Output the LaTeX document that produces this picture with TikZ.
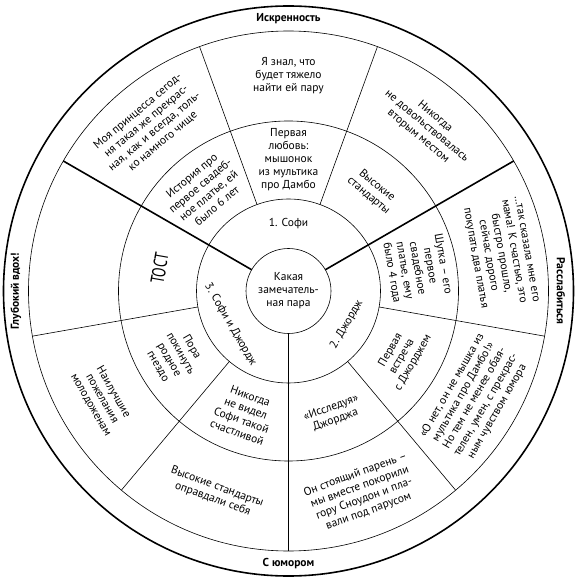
\documentclass[tikz,border=0pt]{standalone}
\usepackage{fontspec}
\setmainfont{PT Sans}
\begin{document}
\begin{tikzpicture}[x=1pt,y=1pt,
  lbl/.style={align=center, font=\fontsize{11.5}{13}\selectfont, inner sep=0pt},
  bandlbl/.style={font=\fontsize{11.5}{13}\selectfont\bfseries, inner sep=0pt},
  thinline/.style={line width=0.6pt},
  thickline/.style={line width=1.6pt}]
\useasboundingbox (-288.5,-289) rectangle (288.5,291);
\def\Ra{42.5}
\def\Rb{92}
\def\Rc{170}
\def\Rd{260}
\def\Re{285}
% circles
\draw[thickline] (0,0) circle (\Re);
\draw[thinline] (0,0) circle (\Rd);
\draw[thinline] (0,0) circle (\Rc);
\draw[thinline] (0,0) circle (\Rb);
\draw[thinline] (0,0) circle (\Ra);
% thick spokes
\foreach \a in {30,150,270} \draw[thickline] (\a:\Ra) -- (\a:\Rd);
% thin dividers
\foreach \a in {70,110,190,230,310,350} \draw[thinline] (\a:\Rb) -- (\a:\Rd);
% centre
\node[lbl] (centre) at (0,0) {Какая\\замечатель-\\ная пара};
% inner ring
\node[lbl] (i1) at (90:67) {1. Софи};
\node[lbl, rotate=60] (i2) at (-30:67) {2. Джордж};
\node[lbl, rotate=-60] (i3) at (210:67) {3. Софи и Джордж};
% middle ring
\node[lbl, rotate=40] (m130) at (130:131) {История про\\первое свадеб-\\ное платье, ей\\было 6 лет};
\node[lbl] (m90) at (90:131) {Первая\\любовь:\\мышонок\\из мультика\\про Дамбо};
\node[lbl, rotate=-40] (m50) at (50:131) {Высокие\\стандарты};
\node[lbl, rotate=-80] (m10) at (10:131) {Шутка – его\\первое\\свадебное\\платье, ему\\было 4 года};
\node[lbl, rotate=60] (m330) at (-30:131) {Первая\\встреча\\с Джорджем};
\node[lbl, rotate=20] (m290) at (-70:131) {«Исследуя»\\Джорджа};
\node[lbl, rotate=-20] (m250) at (250:131) {Никогда\\не видел\\Софи такой\\счастливой};
\node[lbl, rotate=-60] (m210) at (210:131) {Пора\\покинуть\\родное\\гнездо};
\node[inner sep=0pt, rotate=80, font=\fontsize{19}{19}\selectfont] (m170) at (170:131) {\scalebox{0.72}[1]{ТОСТ}};
% outer ring
\node[lbl, rotate=40] (o130) at (130:215) {Моя принцесса сегод-\\ня такая же прекрас-\\ная, как и всегда, толь-\\ко намного чище};
\node[lbl] (o90) at (90:215) {Я знал, что\\будет тяжело\\найти ей пару};
\node[lbl, rotate=-40] (o50) at (50:215) {Никогда\\не довольствовалась\\вторым местом};
\node[lbl, rotate=-80] (o10) at (10:215) {…так сказала мне его\\мама! К счастью, это\\быстро прошло,\\сейчас дорого\\покупать два платья};
\node[lbl, rotate=60] (o330) at (-30:215) {«О нет, он не мышка из\\мультика про Дамбо!»\\Но тем не менее обая-\\телен, умен, с прекрас-\\ным чувством юмора};
\node[lbl, rotate=20] (o290) at (-70:215) {Он стоящий парень –\\мы вместе покорили\\гору Сноудон и пла-\\вали под парусом};
\node[lbl, rotate=-20] (o250) at (250:215) {Высокие стандарты\\оправдали себя};
\node[lbl, rotate=-60] (o210) at (210:215) {Наилучшие\\пожелания\\молодоженам};
% band
\node[bandlbl] (b90) at (90:272.5) {Искренность};
\node[bandlbl, rotate=-90] (b0) at (0:272.5) {Расслабиться};
\node[bandlbl] (b270) at (270:272.5) {С юмором};
\node[bandlbl, rotate=90] (b180) at (180:272.5) {Глубокий вдох!};
\end{tikzpicture}
\end{document}
